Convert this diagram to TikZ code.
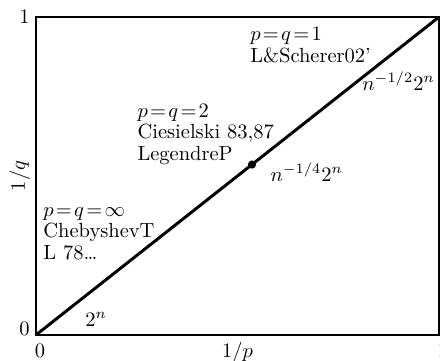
\documentclass[tikz,border=0pt]{standalone}
\usepackage{amsmath}
\usepackage{amssymb}
\usepackage{tikz}
\usetikzlibrary{positioning}

\begin{document}
\begin{tikzpicture}[
    x=196.6pt, y=155.1pt,
    every node/.style={inner sep=0pt, font=\fontsize{10}{10.5}\selectfont},
    frame/.style={line width=0.8pt},
    diag/.style={line width=1.45pt},
    note/.style={anchor=north west, align=left},
    rate/.style={anchor=base west},
    tick/.style={anchor=base},
]
\useasboundingbox (-0.0893,-0.0818) rectangle (1.0025,1.0535);

% Frame and diagonal
\coordinate (O) at (0,0);
\coordinate (E) at (1,1);
\draw[frame] (O) rectangle (E);
\draw[diag] (O) -- (E);
\node[circle, fill, minimum size=4pt] (ptwo) at (0.536,0.536) {};

% Axis labels
\node[anchor=east] (yone) at (-0.015,1) {1};
\node[anchor=base east] (yzero) at (-0.015,-0.003) {0};
\node[tick] (xzero) at (0.01,-0.072) {0};
\node[tick] (xlab) at (0.5,-0.072) {$1/p$};
\node[tick] (xone) at (1.01,-0.072) {1};
\node[rotate=90] (ylab) at (-0.04,0.5) {$1/q$};

% Cases along the diagonal
\node[note] (pone) at (0.531,0.969) {$p\!=\!q\!=\!1$\\L\&Scherer02'};
\node[note] (ptwotext) at (0.251,0.727) {$p\!=\!q\!=\!2$\\Ciesielski 83,87\\LegendreP};
\node[note] (pinf) at (0.0174,0.403) {$p\!=\!q\!=\!\infty$\\ChebyshevT\\L 78\dots};

% Growth rates
\node[rate] (rone) at (0.809,0.770) {$n^{-1/2}2^n$};
\node[rate] (rtwo) at (0.581,0.484) {$n^{-1/4}2^n$};
\node[rate] (rinf) at (0.1216,0.028) {$2^n$};

\end{tikzpicture}
\end{document}
